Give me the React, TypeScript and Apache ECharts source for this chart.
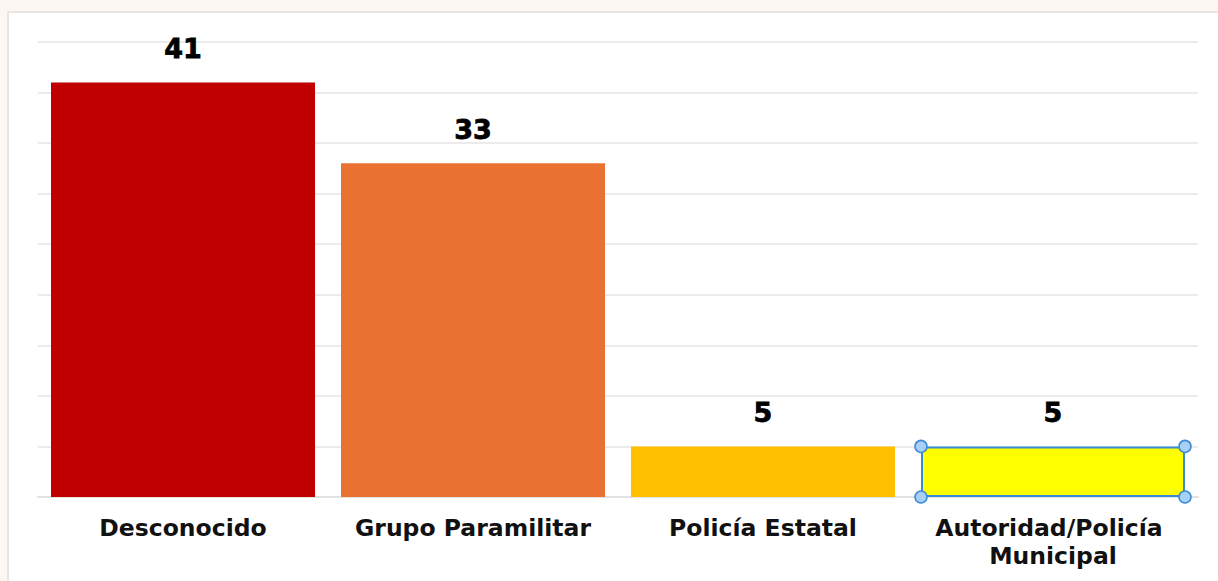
import React, { useEffect, useRef } from "react";
import * as echarts from "echarts";

const categories = ["Desconocido", "Grupo Paramilitar", "Policía Estatal", "Autoridad/Policía Municipal"];
const values = [41, 33, 5, 5];
const barColors = ["#c00000", "#e97132", "#ffc000", "#ffff00"];
const selectedIndex = 3;

export default function App() {
  const ref = useRef<HTMLDivElement>(null);
  useEffect(() => {
    document.body.style.margin = "0";
    const chart = echarts.init(ref.current!, null, { renderer: "svg" });
    const barWidth = 264;
    chart.setOption({
      animation: false,
      grid: { left: 38, right: 20, top: 42, bottom: 84 },
      xAxis: {
        type: "category",
        data: categories,
        axisLine: { lineStyle: { color: "#e2e2e2", width: 2 } },
        axisTick: { show: false },
        axisLabel: {
          interval: 0,
          margin: 17,
          fontFamily: "DejaVu Sans",
          fontWeight: "bold",
          fontSize: 23.5,
          lineHeight: 28,
          color: "#111",
          width: 285,
          overflow: "break",
        },
      },
      yAxis: {
        type: "value",
        min: 0,
        max: 45,
        interval: 5,
        axisLabel: { show: false },
        axisLine: { show: false },
        axisTick: { show: false },
        splitLine: { lineStyle: { color: "#ebebeb", width: 2 } },
      },
      series: [
        {
          type: "bar",
          barWidth,
          data: values.map((v, i) => ({
            value: v,
            itemStyle:
              i === selectedIndex
                ? { color: barColors[i], borderColor: "#3a8ad4", borderWidth: 2 }
                : { color: barColors[i] },
          })),
          label: {
            show: true,
            position: "top",
            distance: 20,
            fontFamily: "DejaVu Sans",
            fontWeight: "bold",
            fontSize: 27,
            color: "#000",
            textBorderColor: "#000",
            textBorderWidth: 0.8,
          },
          markPoint: {
            symbol: "circle",
            symbolSize: 12,
            label: { show: false },
            itemStyle: { color: "#a8d0f4", borderColor: "#3a8ad4", borderWidth: 1.5 },
            data: [
              { coord: [selectedIndex, values[selectedIndex]], symbolOffset: [-barWidth / 2, 0] },
              { coord: [selectedIndex, values[selectedIndex]], symbolOffset: [barWidth / 2, 0] },
              { coord: [selectedIndex, 0], symbolOffset: [-barWidth / 2, 0] },
              { coord: [selectedIndex, 0], symbolOffset: [barWidth / 2, 0] },
            ],
          },
        },
      ],
    });
    return () => chart.dispose();
  }, []);
  return (
    <div style={{ position: "relative", width: 1218, height: 581, background: "#fcf7f2", overflow: "hidden" }}>
      <div
        style={{
          position: "absolute",
          left: 7,
          top: 11,
          width: 1230,
          height: 600,
          background: "#ffffff",
          borderLeft: "2px solid #e9e5e0",
          borderTop: "2px solid #e9e5e0",
        }}
      />
      <div ref={ref} style={{ position: "absolute", left: 0, top: 0, width: 1218, height: 581 }} />
    </div>
  );
}
